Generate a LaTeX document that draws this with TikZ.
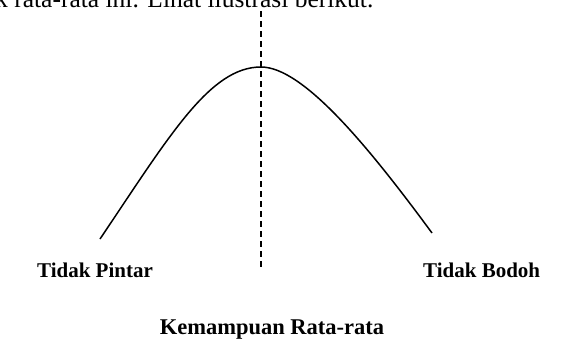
\documentclass[tikz,border=0pt]{standalone}
\usepackage{fontspec}
\setmainfont{Liberation Serif}
\usepackage{tikz}
\usetikzlibrary{calc}

\begin{document}
\begin{tikzpicture}[
  x=1pt, y=-1pt,
  every node/.style={inner sep=0pt},
  label/.style={font=\bfseries\fontsize{21}{24}\selectfont},
]
\useasboundingbox (0,0) rectangle (571,340);
\clip (0,0) rectangle (571,340);

% Text of the page above the picture (cut off)
\node[anchor=base west, font=\fontsize{25.5}{30}\selectfont] (pagetext) at (-5,7)
  {k rata-rata ini. Lihat ilustrasi berikut.};

% Mean line
\coordinate (meantop) at (261,11);
\coordinate (meanbot) at (261,268);
\draw[line width=1.8pt, dash pattern=on 6pt off 4pt] (meantop) -- (meanbot);

% Bell curve
\coordinate (lowend)  at (100,239);
\coordinate (peak)    at (261,67);
\coordinate (highend) at (432,233);
\draw[line width=1.5pt]
  (lowend) .. controls (170,135) and (210,67) .. (peak)
           .. controls (303,67)  and (368,146) .. (highend);

% Labels
\node[label, anchor=base west] (pintar) at (37,277) {Tidak Pintar};
\node[label, anchor=base west] (bodoh)  at (423,277) {Tidak Bodoh};
\node[anchor=base, font=\bfseries\fontsize{22.5}{26}\selectfont] (ratarata)
  at (272,334) {Kemampuan Rata-rata};

\end{tikzpicture}
\end{document}
